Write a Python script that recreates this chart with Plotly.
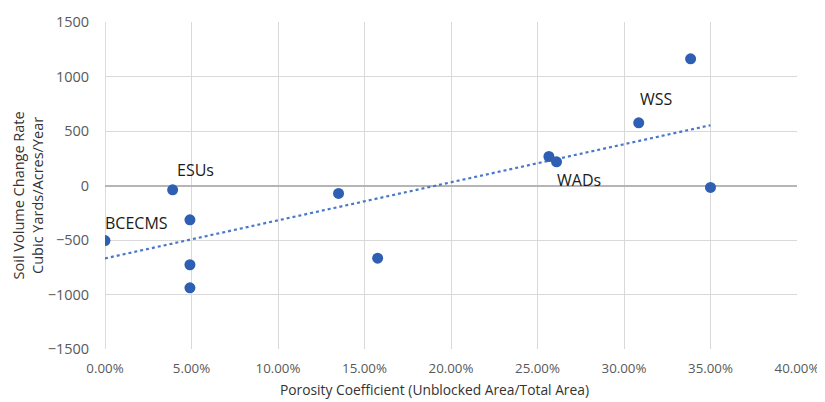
import numpy as np
import plotly.graph_objects as go

porosity = [0.0, 0.0391, 0.0491, 0.0491, 0.0491, 0.135, 0.1576, 0.2566, 0.261, 0.3085, 0.3385, 0.350]
soil_rate = [-505, -40, -315, -727, -939, -73, -667, 266, 217, 575, 1162, -18]

label_text = ["BCECMS", "ESUs", "WSS", "WADs"]
label_x = [0.0183, 0.0522, 0.3185, 0.274]
label_y = [-346, 144, 795, 52]

x_ticks = [0, 0.05, 0.10, 0.15, 0.20, 0.25, 0.30, 0.35, 0.40]
y_ticks = [-1500, -1000, -500, 0, 500, 1000, 1500]

blue = "#2F5FB3"
FONT = "Open Sans, Lato, sans-serif"

coef = np.polyfit(porosity, soil_rate, 1)
tx = np.array([min(porosity), max(porosity)])
ty = np.polyval(coef, tx)

fig = go.Figure()
fig.add_trace(go.Scatter(x=tx, y=ty, mode="lines",
                         line=dict(color="#4A78C9", width=2.2, dash="dot"),
                         showlegend=False, hoverinfo="skip"))
fig.add_trace(go.Scatter(x=porosity, y=soil_rate, mode="markers",
                         marker=dict(color=blue, size=11),
                         showlegend=False))

for t, xv, yv in zip(label_text, label_x, label_y):
    fig.add_annotation(x=xv, y=yv, text=t, showarrow=False,
                       font=dict(size=16, color="#1a1a1a", family=FONT))

fig.add_annotation(xref="paper", yref="paper", x=-0.141, y=0.471,
                   text="Soil Volume Change Rate<br>Cubic Yards/Acres/Year",
                   textangle=-90, showarrow=False,
                   font=dict(size=14.5, color="#333333", family=FONT))
fig.add_annotation(xref="paper", yref="paper", x=0.476, y=-0.125,
                   yanchor="middle",
                   text="Porosity Coefficient (Unblocked Area/Total Area)",
                   showarrow=False,
                   font=dict(size=13.8, color="#333333", family=FONT))

fig.update_layout(
    width=817, height=394,
    margin=dict(l=97, r=28, t=14, b=53),
    paper_bgcolor="white", plot_bgcolor="white",
    font=dict(family=FONT),
    xaxis=dict(range=[0, 0.40], tickvals=x_ticks, tickformat=".2%",
               showgrid=True, gridcolor="#d9d9d9", gridwidth=1,
               zeroline=False, showline=False,
               ticks="outside", ticklen=7, tickcolor="rgba(0,0,0,0)",
               automargin=False,
               tickfont=dict(size=13.3, color="#595959")),
    yaxis=dict(range=[-1500, 1500], tickvals=y_ticks,
               showgrid=True, gridcolor="#d9d9d9", gridwidth=1,
               zeroline=True, zerolinecolor="#b5b5b5", zerolinewidth=1.5,
               showline=False,
               ticks="outside", ticklen=12, tickcolor="rgba(0,0,0,0)",
               automargin=False,
               tickfont=dict(size=14.5, color="#595959")),
)
fig.add_shape(type="line", xref="x", yref="paper", x0=0, x1=0, y0=0, y1=1,
              line=dict(color="#d0d0d0", width=1.5), layer="below")

fig.write_html("out.html")
